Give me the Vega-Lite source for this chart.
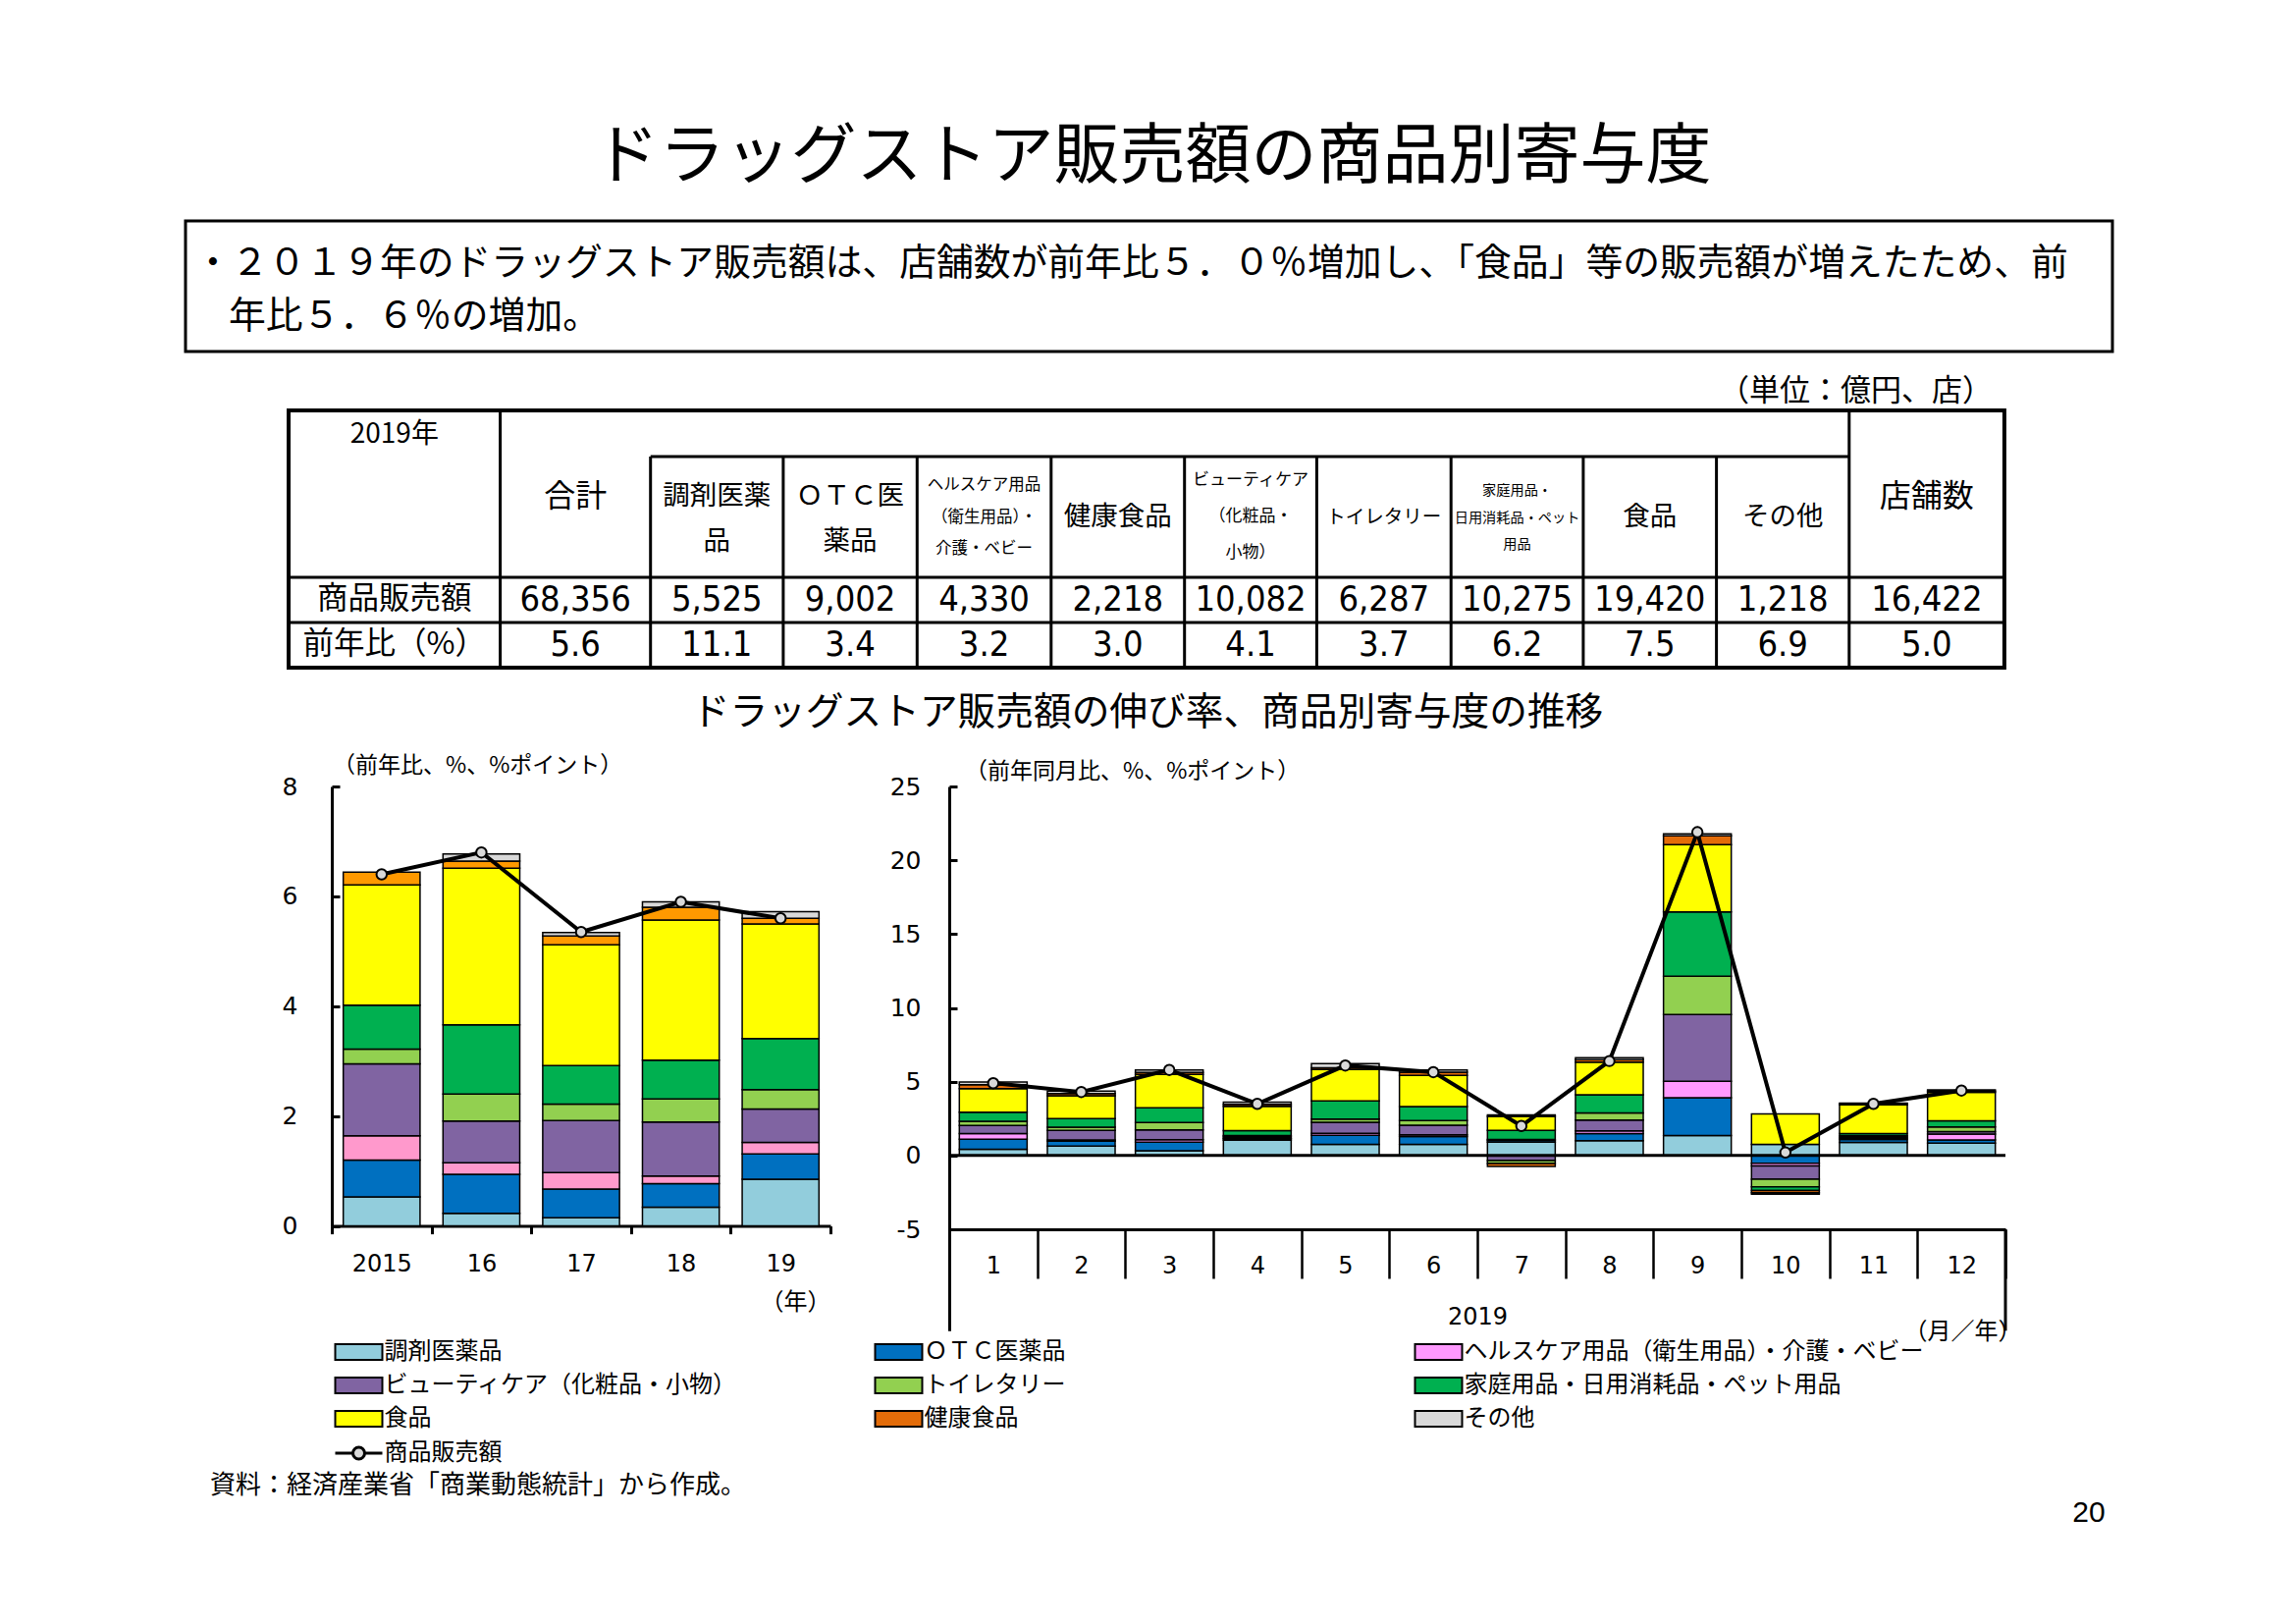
{
  "$schema": "https://vega.github.io/schema/vega-lite/v6.json",
  "background": "white",
  "padding": 0,
  "bounds": "flush",
  "spacing": 5,
  "config": {
    "view": {"stroke": null},
    "font": "Noto Sans CJK JP",
    "axis": {"domainColor": "black", "tickColor": "black", "labelColor": "black", "titleColor": "black", "grid": false, "labelFont": "DejaVu Sans", "titleFont": "Noto Sans CJK JP", "titleFontWeight": "normal"},
    "title": {"color": "black", "fontWeight": "normal", "font": "Noto Sans CJK JP"},
    "legend": {"labelColor": "black"},
    "text": {"color": "black", "font": "Noto Sans CJK JP"}
  },
  "datasets": {
    "cats": [
      {"k": 1, "c": "調剤医薬品"},
      {"k": 2, "c": "ＯＴＣ医薬品"},
      {"k": 3, "c": "ヘルスケア用品（衛生用品）・介護・ベビー"},
      {"k": 4, "c": "ビューティケア（化粧品・小物）"},
      {"k": 5, "c": "トイレタリー"},
      {"k": 6, "c": "家庭用品・日用消耗品・ペット用品"},
      {"k": 7, "c": "食品"},
      {"k": 8, "c": "健康食品"},
      {"k": 9, "c": "その他"}
    ],
    "yearly": [
      {"yr": "2015", "k": 1, "v": 0.53}, {"yr": "2015", "k": 2, "v": 0.67}, {"yr": "2015", "k": 3, "v": 0.44}, {"yr": "2015", "k": 4, "v": 1.31}, {"yr": "2015", "k": 5, "v": 0.27}, {"yr": "2015", "k": 6, "v": 0.80}, {"yr": "2015", "k": 7, "v": 2.19}, {"yr": "2015", "k": 8, "v": 0.23},
      {"yr": "16", "k": 1, "v": 0.23}, {"yr": "16", "k": 2, "v": 0.71}, {"yr": "16", "k": 3, "v": 0.21}, {"yr": "16", "k": 4, "v": 0.76}, {"yr": "16", "k": 5, "v": 0.49}, {"yr": "16", "k": 6, "v": 1.26}, {"yr": "16", "k": 7, "v": 2.85}, {"yr": "16", "k": 8, "v": 0.13}, {"yr": "16", "k": 9, "v": 0.13},
      {"yr": "17", "k": 1, "v": 0.15}, {"yr": "17", "k": 2, "v": 0.52}, {"yr": "17", "k": 3, "v": 0.30}, {"yr": "17", "k": 4, "v": 0.95}, {"yr": "17", "k": 5, "v": 0.30}, {"yr": "17", "k": 6, "v": 0.70}, {"yr": "17", "k": 7, "v": 2.20}, {"yr": "17", "k": 8, "v": 0.16}, {"yr": "17", "k": 9, "v": 0.06},
      {"yr": "18", "k": 1, "v": 0.34}, {"yr": "18", "k": 2, "v": 0.43}, {"yr": "18", "k": 3, "v": 0.14}, {"yr": "18", "k": 4, "v": 0.98}, {"yr": "18", "k": 5, "v": 0.42}, {"yr": "18", "k": 6, "v": 0.71}, {"yr": "18", "k": 7, "v": 2.55}, {"yr": "18", "k": 8, "v": 0.23}, {"yr": "18", "k": 9, "v": 0.10},
      {"yr": "19", "k": 1, "v": 0.85}, {"yr": "19", "k": 2, "v": 0.46}, {"yr": "19", "k": 3, "v": 0.21}, {"yr": "19", "k": 4, "v": 0.61}, {"yr": "19", "k": 5, "v": 0.35}, {"yr": "19", "k": 6, "v": 0.93}, {"yr": "19", "k": 7, "v": 2.09}, {"yr": "19", "k": 8, "v": 0.10}, {"yr": "19", "k": 9, "v": 0.12}
    ],
    "yearlyTotal": [
      {"yr": "2015", "v": 6.4}, {"yr": "16", "v": 6.8}, {"yr": "17", "v": 5.35}, {"yr": "18", "v": 5.9}, {"yr": "19", "v": 5.6}
    ],
    "monthly": [
      {"m": "1", "k": 1, "v": 0.42}, {"m": "1", "k": 2, "v": 0.69}, {"m": "1", "k": 3, "v": 0.38}, {"m": "1", "k": 4, "v": 0.55}, {"m": "1", "k": 5, "v": 0.27}, {"m": "1", "k": 6, "v": 0.62}, {"m": "1", "k": 7, "v": 1.60}, {"m": "1", "k": 8, "v": 0.27}, {"m": "1", "k": 9, "v": 0.18},
      {"m": "2", "k": 1, "v": 0.64}, {"m": "2", "k": 2, "v": 0.33}, {"m": "2", "k": 3, "v": 0.09}, {"m": "2", "k": 4, "v": 0.64}, {"m": "2", "k": 5, "v": 0.22}, {"m": "2", "k": 6, "v": 0.58}, {"m": "2", "k": 7, "v": 1.55}, {"m": "2", "k": 8, "v": 0.15}, {"m": "2", "k": 9, "v": 0.16},
      {"m": "3", "k": 1, "v": 0.33}, {"m": "3", "k": 2, "v": 0.58}, {"m": "3", "k": 3, "v": 0.16}, {"m": "3", "k": 4, "v": 0.67}, {"m": "3", "k": 5, "v": 0.49}, {"m": "3", "k": 6, "v": 1.00}, {"m": "3", "k": 7, "v": 2.26}, {"m": "3", "k": 8, "v": 0.13}, {"m": "3", "k": 9, "v": 0.18},
      {"m": "4", "k": 1, "v": 1.04}, {"m": "4", "k": 2, "v": 0.10}, {"m": "4", "k": 3, "v": 0.05}, {"m": "4", "k": 4, "v": 0.10}, {"m": "4", "k": 5, "v": 0.06}, {"m": "4", "k": 6, "v": 0.33}, {"m": "4", "k": 7, "v": 1.66}, {"m": "4", "k": 8, "v": 0.12}, {"m": "4", "k": 9, "v": 0.15},
      {"m": "5", "k": 1, "v": 0.75}, {"m": "5", "k": 2, "v": 0.62}, {"m": "5", "k": 3, "v": 0.13}, {"m": "5", "k": 4, "v": 0.75}, {"m": "5", "k": 5, "v": 0.22}, {"m": "5", "k": 6, "v": 1.22}, {"m": "5", "k": 7, "v": 2.13}, {"m": "5", "k": 8, "v": 0.13}, {"m": "5", "k": 9, "v": 0.27},
      {"m": "6", "k": 1, "v": 0.75}, {"m": "6", "k": 2, "v": 0.53}, {"m": "6", "k": 3, "v": 0.13}, {"m": "6", "k": 4, "v": 0.64}, {"m": "6", "k": 5, "v": 0.31}, {"m": "6", "k": 6, "v": 0.95}, {"m": "6", "k": 7, "v": 2.11}, {"m": "6", "k": 8, "v": 0.22}, {"m": "6", "k": 9, "v": 0.16},
      {"m": "7", "k": 1, "v": 0.90}, {"m": "7", "k": 2, "v": 0.12}, {"m": "7", "k": 3, "v": 0.06}, {"m": "7", "k": 4, "v": -0.35}, {"m": "7", "k": 5, "v": -0.20}, {"m": "7", "k": 6, "v": 0.62}, {"m": "7", "k": 7, "v": 0.95}, {"m": "7", "k": 8, "v": -0.20}, {"m": "7", "k": 9, "v": 0.10},
      {"m": "8", "k": 1, "v": 1.00}, {"m": "8", "k": 2, "v": 0.49}, {"m": "8", "k": 3, "v": 0.18}, {"m": "8", "k": 4, "v": 0.73}, {"m": "8", "k": 5, "v": 0.49}, {"m": "8", "k": 6, "v": 1.22}, {"m": "8", "k": 7, "v": 2.22}, {"m": "8", "k": 8, "v": 0.16}, {"m": "8", "k": 9, "v": 0.13},
      {"m": "9", "k": 1, "v": 1.35}, {"m": "9", "k": 2, "v": 2.57}, {"m": "9", "k": 3, "v": 1.11}, {"m": "9", "k": 4, "v": 4.52}, {"m": "9", "k": 5, "v": 2.59}, {"m": "9", "k": 6, "v": 4.37}, {"m": "9", "k": 7, "v": 4.55}, {"m": "9", "k": 8, "v": 0.60}, {"m": "9", "k": 9, "v": 0.13},
      {"m": "10", "k": 1, "v": 0.75}, {"m": "10", "k": 2, "v": -0.53}, {"m": "10", "k": 3, "v": -0.18}, {"m": "10", "k": 4, "v": -0.89}, {"m": "10", "k": 5, "v": -0.53}, {"m": "10", "k": 6, "v": -0.24}, {"m": "10", "k": 7, "v": 2.06}, {"m": "10", "k": 8, "v": -0.15}, {"m": "10", "k": 9, "v": -0.10},
      {"m": "11", "k": 1, "v": 0.89}, {"m": "11", "k": 2, "v": 0.20}, {"m": "11", "k": 3, "v": 0.05}, {"m": "11", "k": 4, "v": 0.10}, {"m": "11", "k": 5, "v": 0.10}, {"m": "11", "k": 6, "v": 0.15}, {"m": "11", "k": 7, "v": 1.95}, {"m": "11", "k": 8, "v": 0.06}, {"m": "11", "k": 9, "v": 0.05},
      {"m": "12", "k": 1, "v": 0.84}, {"m": "12", "k": 2, "v": 0.22}, {"m": "12", "k": 3, "v": 0.40}, {"m": "12", "k": 4, "v": 0.16}, {"m": "12", "k": 5, "v": 0.31}, {"m": "12", "k": 6, "v": 0.42}, {"m": "12", "k": 7, "v": 1.93}, {"m": "12", "k": 8, "v": 0.08}, {"m": "12", "k": 9, "v": 0.08}
    ],
    "monthlyTotal": [
      {"m": "1", "v": 4.9, "s": "商品販売額"}, {"m": "2", "v": 4.3, "s": "商品販売額"}, {"m": "3", "v": 5.8, "s": "商品販売額"}, {"m": "4", "v": 3.5, "s": "商品販売額"},
      {"m": "5", "v": 6.1, "s": "商品販売額"}, {"m": "6", "v": 5.65, "s": "商品販売額"}, {"m": "7", "v": 2.0, "s": "商品販売額"}, {"m": "8", "v": 6.4, "s": "商品販売額"},
      {"m": "9", "v": 21.9, "s": "商品販売額"}, {"m": "10", "v": 0.2, "s": "商品販売額"}, {"m": "11", "v": 3.5, "s": "商品販売額"}, {"m": "12", "v": 4.4, "s": "商品販売額"}
    ]
  },
  "vconcat": [
    {
      "width": 2339,
      "height": 796,
      "resolve": {"scale": {"x": "independent", "y": "independent"}},
      "layer": [
        {
          "layer": [
            {
              "data": {"values": [{"t": "ドラッグストア販売額の商品別寄与度"}]},
              "mark": {"type": "text", "fontSize": 67, "align": "center", "baseline": "middle"},
              "encoding": {
                "text": {"field": "t"},
                "x": {"datum": 0.50192, "type": "quantitative", "scale": {"domain": [0, 1], "nice": false, "zero": false}, "axis": null},
                "y": {"datum": 0.20226, "type": "quantitative", "scale": {"domain": [0, 1], "nice": false, "zero": false, "reverse": true}, "axis": null}
              }
            },
            {
              "data": {"values": [{"box": "summary"}]},
              "mark": {"type": "rect", "filled": false, "stroke": "black", "strokeWidth": 3},
              "encoding": {
                "x": {"datum": 0.0808, "type": "quantitative", "scale": {"domain": [0, 1], "nice": false, "zero": false}, "axis": null},
                "x2": {"datum": 0.92005},
                "y": {"datum": 0.28266, "type": "quantitative", "scale": {"domain": [0, 1], "nice": false, "zero": false, "reverse": true}, "axis": null},
                "y2": {"datum": 0.44975}
              }
            },
            {
              "data": {"values": [{"t": "・２０１９年のドラッグストア販売額は、店舗数が前年比５．０％増加し、「食品」等の販売額が増えたため、前"}]},
              "mark": {"type": "text", "fontSize": 37.8, "align": "left", "baseline": "middle"},
              "encoding": {
                "text": {"field": "t"},
                "x": {"datum": 0.08465, "type": "quantitative", "scale": {"domain": [0, 1], "nice": false, "zero": false}, "axis": null},
                "y": {"datum": 0.3379, "type": "quantitative", "scale": {"domain": [0, 1], "nice": false, "zero": false, "reverse": true}, "axis": null}
              }
            },
            {
              "data": {"values": [{"t": "年比５．６％の増加。"}]},
              "mark": {"type": "text", "fontSize": 37.8, "align": "left", "baseline": "middle"},
              "encoding": {
                "text": {"field": "t"},
                "x": {"datum": 0.09962, "type": "quantitative", "scale": {"domain": [0, 1], "nice": false, "zero": false}, "axis": null},
                "y": {"datum": 0.40578, "type": "quantitative", "scale": {"domain": [0, 1], "nice": false, "zero": false, "reverse": true}, "axis": null}
              }
            },
            {
              "data": {"values": [{"t": "（単位：億円、店）"}]},
              "mark": {"type": "text", "fontSize": 31, "align": "right", "baseline": "middle"},
              "encoding": {
                "text": {"field": "t"},
                "x": {"datum": 0.8679, "type": "quantitative", "scale": {"domain": [0, 1], "nice": false, "zero": false}, "axis": null},
                "y": {"datum": 0.5013, "type": "quantitative", "scale": {"domain": [0, 1], "nice": false, "zero": false, "reverse": true}, "axis": null}
              }
            },
            {
              "data": {"values": [{"t": "ドラッグストア販売額の伸び率、商品別寄与度の推移"}]},
              "mark": {"type": "text", "fontSize": 38.7, "align": "center", "baseline": "middle"},
              "encoding": {
                "text": {"field": "t"},
                "x": {"datum": 0.49979, "type": "quantitative", "scale": {"domain": [0, 1], "nice": false, "zero": false}, "axis": null},
                "y": {"datum": 0.91206, "type": "quantitative", "scale": {"domain": [0, 1], "nice": false, "zero": false, "reverse": true}, "axis": null}
              }
            }
          ]
        },
        {
          "layer": [
            {
              "data": {"values": [{"x0": 0, "x1": 12, "y0": 0, "y1": 4}]},
              "mark": {"type": "rect", "filled": false, "stroke": "black", "strokeWidth": 4},
              "encoding": {
                "x": {"field": "x0", "type": "quantitative", "scale": {"domain": [0,1,2,3,4,5,6,7,8,9,10,11,12], "range": [294,509.6,662.7,797.9,934.3,1070.8,1206.7,1341.4,1478.2,1612.9,1748.6,1883.8,2041.9], "nice": false, "zero": false}, "axis": null},
                "x2": {"field": "x1"},
                "y": {"field": "y0", "type": "quantitative", "scale": {"domain": [0,1,2,3,4], "range": [418,465,588,634,680], "nice": false, "zero": false}, "axis": null},
                "y2": {"field": "y1"}
              }
            },
            {
              "data": {"values": [
                {"x0": 1, "x1": 1, "y0": 0, "y1": 4}, {"x0": 11, "x1": 11, "y0": 0, "y1": 4},
                {"x0": 2, "x1": 2, "y0": 1, "y1": 4}, {"x0": 3, "x1": 3, "y0": 1, "y1": 4}, {"x0": 4, "x1": 4, "y0": 1, "y1": 4},
                {"x0": 5, "x1": 5, "y0": 1, "y1": 4}, {"x0": 6, "x1": 6, "y0": 1, "y1": 4}, {"x0": 7, "x1": 7, "y0": 1, "y1": 4},
                {"x0": 8, "x1": 8, "y0": 1, "y1": 4}, {"x0": 9, "x1": 9, "y0": 1, "y1": 4}, {"x0": 10, "x1": 10, "y0": 1, "y1": 4},
                {"x0": 2, "x1": 11, "y0": 1, "y1": 1}, {"x0": 0, "x1": 12, "y0": 2, "y1": 2}, {"x0": 0, "x1": 12, "y0": 3, "y1": 3}
              ]},
              "mark": {"type": "rule", "color": "black", "strokeWidth": 3},
              "encoding": {
                "x": {"field": "x0", "type": "quantitative", "scale": {"domain": [0,1,2,3,4,5,6,7,8,9,10,11,12], "range": [294,509.6,662.7,797.9,934.3,1070.8,1206.7,1341.4,1478.2,1612.9,1748.6,1883.8,2041.9], "nice": false, "zero": false}, "axis": null},
                "x2": {"field": "x1"},
                "y": {"field": "y0", "type": "quantitative", "scale": {"domain": [0,1,2,3,4], "range": [418,465,588,634,680], "nice": false, "zero": false}, "axis": null},
                "y2": {"field": "y1"}
              }
            },
            {
              "data": {"values": [{"t": "2019年", "c": 0.5, "r": 0.53}]},
              "mark": {"type": "text", "fontSize": 28, "align": "center", "baseline": "middle"},
              "encoding": {
                "text": {"field": "t"},
                "x": {"field": "c", "type": "quantitative", "scale": {"domain": [0,1,2,3,4,5,6,7,8,9,10,11,12], "range": [294,509.6,662.7,797.9,934.3,1070.8,1206.7,1341.4,1478.2,1612.9,1748.6,1883.8,2041.9], "nice": false, "zero": false}, "axis": null},
                "y": {"field": "r", "type": "quantitative", "scale": {"domain": [0,1,2,3,4], "range": [418,465,588,634,680], "nice": false, "zero": false}, "axis": null}
              }
            },
            {
              "data": {"values": [{"t": "合計", "c": 1.5, "r": 1.33}, {"t": "店舗数", "c": 11.5, "r": 1.33}]},
              "mark": {"type": "text", "fontSize": 32, "align": "center", "baseline": "middle"},
              "encoding": {
                "text": {"field": "t"},
                "x": {"field": "c", "type": "quantitative", "scale": {"domain": [0,1,2,3,4,5,6,7,8,9,10,11,12], "range": [294,509.6,662.7,797.9,934.3,1070.8,1206.7,1341.4,1478.2,1612.9,1748.6,1883.8,2041.9], "nice": false, "zero": false}, "axis": null},
                "y": {"field": "r", "type": "quantitative", "scale": {"domain": [0,1,2,3,4], "range": [418,465,588,634,680], "nice": false, "zero": false}, "axis": null}
              }
            },
            {
              "data": {"values": [
                {"t": "調剤医薬\n品", "c": 2.5, "r": 1.333}, {"t": "ＯＴＣ医\n薬品", "c": 3.5, "r": 1.333},
                {"t": "健康食品", "c": 5.5, "r": 1.5}, {"t": "食品", "c": 9.5, "r": 1.5}, {"t": "その他", "c": 10.5, "r": 1.5}
              ]},
              "mark": {"type": "text", "fontSize": 27.5, "lineHeight": 46, "lineBreak": "\n", "align": "center", "baseline": "middle"},
              "encoding": {
                "text": {"field": "t"},
                "x": {"field": "c", "type": "quantitative", "scale": {"domain": [0,1,2,3,4,5,6,7,8,9,10,11,12], "range": [294,509.6,662.7,797.9,934.3,1070.8,1206.7,1341.4,1478.2,1612.9,1748.6,1883.8,2041.9], "nice": false, "zero": false}, "axis": null},
                "y": {"field": "r", "type": "quantitative", "scale": {"domain": [0,1,2,3,4], "range": [418,465,588,634,680], "nice": false, "zero": false}, "axis": null}
              }
            },
            {
              "data": {"values": [{"t": "ヘルスケア用品\n（衛生用品）・\n介護・ベビー", "c": 4.5, "r": 1.236}]},
              "mark": {"type": "text", "fontSize": 16.5, "lineHeight": 32.5, "lineBreak": "\n", "align": "center", "baseline": "middle"},
              "encoding": {
                "text": {"field": "t"},
                "x": {"field": "c", "type": "quantitative", "scale": {"domain": [0,1,2,3,4,5,6,7,8,9,10,11,12], "range": [294,509.6,662.7,797.9,934.3,1070.8,1206.7,1341.4,1478.2,1612.9,1748.6,1883.8,2041.9], "nice": false, "zero": false}, "axis": null},
                "y": {"field": "r", "type": "quantitative", "scale": {"domain": [0,1,2,3,4], "range": [418,465,588,634,680], "nice": false, "zero": false}, "axis": null}
              }
            },
            {
              "data": {"values": [{"t": "ビューティケア\n（化粧品・\n小物）", "c": 6.5, "r": 1.195}]},
              "mark": {"type": "text", "fontSize": 17, "lineHeight": 37, "lineBreak": "\n", "align": "center", "baseline": "middle"},
              "encoding": {
                "text": {"field": "t"},
                "x": {"field": "c", "type": "quantitative", "scale": {"domain": [0,1,2,3,4,5,6,7,8,9,10,11,12], "range": [294,509.6,662.7,797.9,934.3,1070.8,1206.7,1341.4,1478.2,1612.9,1748.6,1883.8,2041.9], "nice": false, "zero": false}, "axis": null},
                "y": {"field": "r", "type": "quantitative", "scale": {"domain": [0,1,2,3,4], "range": [418,465,588,634,680], "nice": false, "zero": false}, "axis": null}
              }
            },
            {
              "data": {"values": [{"t": "トイレタリー", "c": 7.5, "r": 1.5}]},
              "mark": {"type": "text", "fontSize": 19.5, "align": "center", "baseline": "middle"},
              "encoding": {
                "text": {"field": "t"},
                "x": {"field": "c", "type": "quantitative", "scale": {"domain": [0,1,2,3,4,5,6,7,8,9,10,11,12], "range": [294,509.6,662.7,797.9,934.3,1070.8,1206.7,1341.4,1478.2,1612.9,1748.6,1883.8,2041.9], "nice": false, "zero": false}, "axis": null},
                "y": {"field": "r", "type": "quantitative", "scale": {"domain": [0,1,2,3,4], "range": [418,465,588,634,680], "nice": false, "zero": false}, "axis": null}
              }
            },
            {
              "data": {"values": [{"t": "家庭用品・\n日用消耗品・ペット\n用品", "c": 8.5, "r": 1.285}]},
              "mark": {"type": "text", "fontSize": 14.2, "lineHeight": 27.5, "lineBreak": "\n", "align": "center", "baseline": "middle"},
              "encoding": {
                "text": {"field": "t"},
                "x": {"field": "c", "type": "quantitative", "scale": {"domain": [0,1,2,3,4,5,6,7,8,9,10,11,12], "range": [294,509.6,662.7,797.9,934.3,1070.8,1206.7,1341.4,1478.2,1612.9,1748.6,1883.8,2041.9], "nice": false, "zero": false}, "axis": null},
                "y": {"field": "r", "type": "quantitative", "scale": {"domain": [0,1,2,3,4], "range": [418,465,588,634,680], "nice": false, "zero": false}, "axis": null}
              }
            },
            {
              "data": {"values": [{"t": "商品販売額", "c": 0.5, "r": 2.5}, {"t": "前年比（%）", "c": 0.5, "r": 3.5}]},
              "mark": {"type": "text", "fontSize": 31.5, "align": "center", "baseline": "middle"},
              "encoding": {
                "text": {"field": "t"},
                "x": {"field": "c", "type": "quantitative", "scale": {"domain": [0,1,2,3,4,5,6,7,8,9,10,11,12], "range": [294,509.6,662.7,797.9,934.3,1070.8,1206.7,1341.4,1478.2,1612.9,1748.6,1883.8,2041.9], "nice": false, "zero": false}, "axis": null},
                "y": {"field": "r", "type": "quantitative", "scale": {"domain": [0,1,2,3,4], "range": [418,465,588,634,680], "nice": false, "zero": false}, "axis": null}
              }
            },
            {
              "data": {"values": [
                {"t": "68,356", "c": 1.5, "r": 2.5}, {"t": "5,525", "c": 2.5, "r": 2.5}, {"t": "9,002", "c": 3.5, "r": 2.5}, {"t": "4,330", "c": 4.5, "r": 2.5},
                {"t": "2,218", "c": 5.5, "r": 2.5}, {"t": "10,082", "c": 6.5, "r": 2.5}, {"t": "6,287", "c": 7.5, "r": 2.5}, {"t": "10,275", "c": 8.5, "r": 2.5},
                {"t": "19,420", "c": 9.5, "r": 2.5}, {"t": "1,218", "c": 10.5, "r": 2.5}, {"t": "16,422", "c": 11.5, "r": 2.5},
                {"t": "5.6", "c": 1.5, "r": 3.5}, {"t": "11.1", "c": 2.5, "r": 3.5}, {"t": "3.4", "c": 3.5, "r": 3.5}, {"t": "3.2", "c": 4.5, "r": 3.5},
                {"t": "3.0", "c": 5.5, "r": 3.5}, {"t": "4.1", "c": 6.5, "r": 3.5}, {"t": "3.7", "c": 7.5, "r": 3.5}, {"t": "6.2", "c": 8.5, "r": 3.5},
                {"t": "7.5", "c": 9.5, "r": 3.5}, {"t": "6.9", "c": 10.5, "r": 3.5}, {"t": "5.0", "c": 11.5, "r": 3.5}
              ]},
              "mark": {"type": "text", "fontSize": 36, "font": "DejaVu Sans Condensed", "align": "center", "baseline": "middle"},
              "encoding": {
                "text": {"field": "t"},
                "x": {"field": "c", "type": "quantitative", "scale": {"domain": [0,1,2,3,4,5,6,7,8,9,10,11,12], "range": [294,509.6,662.7,797.9,934.3,1070.8,1206.7,1341.4,1478.2,1612.9,1748.6,1883.8,2041.9], "nice": false, "zero": false}, "axis": null},
                "y": {"field": "r", "type": "quantitative", "scale": {"domain": [0,1,2,3,4], "range": [418,465,588,634,680], "nice": false, "zero": false}, "axis": null}
              }
            }
          ]
        }
      ]
    },
    {
      "bounds": "flush",
      "spacing": 121,
      "resolve": {"scale": {"color": "independent", "stroke": "independent", "x": "independent", "y": "independent"}, "legend": {"color": "independent", "stroke": "independent"}},
      "hconcat": [
        {
          "width": 217,
          "height": 853,
          "layer": [
            {
              "data": {"values": [{"t": "資料：経済産業省「商業動態統計」から作成。"}]},
              "mark": {"type": "text", "fontSize": 26, "align": "left", "baseline": "middle"},
              "encoding": {
                "text": {"field": "t"},
                "x": {"datum": 0.0915, "type": "quantitative", "scale": {"domain": [0, 1], "range": [0, 2339], "nice": false, "zero": false}, "axis": null},
                "y": {"datum": 0.9148, "type": "quantitative", "scale": {"domain": [0, 1], "range": [-801, 853], "nice": false, "zero": false}, "axis": null}
              }
            },
            {
              "data": {"values": [{"t": "20"}]},
              "mark": {"type": "text", "fontSize": 30, "font": "Liberation Sans", "align": "center", "baseline": "middle"},
              "encoding": {
                "text": {"field": "t"},
                "x": {"datum": 0.9098, "type": "quantitative", "scale": {"domain": [0, 1], "range": [0, 2339], "nice": false, "zero": false}, "axis": null},
                "y": {"datum": 0.9317, "type": "quantitative", "scale": {"domain": [0, 1], "range": [-801, 853], "nice": false, "zero": false}, "axis": null}
              }
            }
          ]
        },
        {
          "width": 508,
          "height": 447.6,
          "title": {"text": "（前年比、%、%ポイント）", "anchor": "start", "frame": "group", "fontSize": 23, "offset": -3, "dx": 1},
          "layer": [
            {
              "data": {"name": "yearly"},
              "transform": [{"lookup": "k", "from": {"data": {"name": "cats"}, "key": "k", "fields": ["c"]}}],
              "mark": {"type": "bar", "stroke": "black", "strokeWidth": 1.5, "width": {"band": 0.77}},
              "encoding": {
                "x": {"field": "yr", "type": "ordinal", "title": "（年）",
                      "scale": {"domain": ["2015", "16", "17", "18", "19"], "paddingInner": 0, "paddingOuter": 0},
                      "axis": {"titleAnchor": "end", "titleFontSize": 24, "titlePadding": 15, "tickBand": "extent", "tickSize": 8, "tickWidth": 3, "domainWidth": 3, "labelAngle": 0, "labelFontSize": 24, "labelPadding": 19}},
                "y": {"field": "v", "type": "quantitative", "stack": "zero", "title": null,
                      "scale": {"domain": [0, 8], "nice": false},
                      "axis": {"values": [0, 2, 4, 6, 8], "tickSize": -8, "tickWidth": 3, "domainWidth": 3, "labelPadding": 43, "labelFontSize": 25, "labelExpr": "'' + datum.value"}},
                "color": {"field": "c", "type": "nominal",
                          "scale": {"domain": ["調剤医薬品", "ＯＴＣ医薬品", "ヘルスケア用品（衛生用品）・介護・ベビー", "ビューティケア（化粧品・小物）", "トイレタリー", "家庭用品・日用消耗品・ペット用品", "食品", "健康食品", "その他"],
                                    "range": ["#92CDDC", "#0070C0", "#FF99CC", "#8064A2", "#92D050", "#00B050", "#FFFF00", "#FF9900", "#D9D9D9"]},
                          "legend": null},
                "order": {"field": "k", "type": "quantitative"}
              }
            },
            {
              "data": {"name": "yearlyTotal"},
              "mark": {"type": "line", "color": "black", "strokeWidth": 4},
              "encoding": {
                "x": {"field": "yr", "type": "ordinal", "title": "（年）"},
                "y": {"field": "v", "type": "quantitative", "title": null}
              }
            },
            {
              "data": {"name": "yearlyTotal"},
              "mark": {"type": "point", "shape": "circle", "filled": true, "fill": "#D9D9D9", "stroke": "black", "strokeWidth": 2, "size": 110, "opacity": 1},
              "encoding": {
                "x": {"field": "yr", "type": "ordinal", "title": "（年）"},
                "y": {"field": "v", "type": "quantitative", "title": null}
              }
            }
          ]
        },
        {
          "width": 1076,
          "height": 554.3,
          "title": {"text": "（前年同月比、%、%ポイント）", "anchor": "start", "frame": "group", "fontSize": 23, "offset": -9, "dx": 16},
          "resolve": {"scale": {"x": "independent"}, "axis": {"x": "independent"}},
          "layer": [
            {
              "layer": [
                {
                  "data": {"name": "monthly"},
                  "transform": [{"lookup": "k", "from": {"data": {"name": "cats"}, "key": "k", "fields": ["c"]}}],
                  "mark": {"type": "bar", "stroke": "black", "strokeWidth": 1.5, "width": {"band": 0.77}},
                  "encoding": {
                    "x": {"field": "m", "type": "ordinal", "title": "2019",
                          "scale": {"domain": ["1", "2", "3", "4", "5", "6", "7", "8", "9", "10", "11", "12"], "paddingInner": 0, "paddingOuter": 0},
                          "axis": {"orient": "bottom", "offset": -103.3, "tickBand": "extent", "tickSize": 50, "tickWidth": 2.5, "domainWidth": 3, "labelAngle": 0, "labelFontSize": 24, "labelPadding": -25, "titleFont": "DejaVu Sans", "titleFontSize": 24, "titlePadding": 26}},
                    "y": {"field": "v", "type": "quantitative", "stack": "zero", "title": null,
                          "scale": {"domain": [-11.87, 25], "nice": false, "zero": false},
                          "axis": {"values": [-5, 0, 5, 10, 15, 20, 25], "tickSize": -8, "tickWidth": 3, "domainWidth": 3, "labelPadding": 37, "labelFontSize": 25, "labelExpr": "'' + datum.value"}},
                    "color": {"field": "c", "type": "nominal",
                              "scale": {"domain": ["調剤医薬品", "ＯＴＣ医薬品", "ヘルスケア用品（衛生用品）・介護・ベビー", "ビューティケア（化粧品・小物）", "トイレタリー", "家庭用品・日用消耗品・ペット用品", "食品", "健康食品", "その他"],
                                        "range": ["#92CDDC", "#0070C0", "#FF99FF", "#8064A2", "#92D050", "#00B050", "#FFFF00", "#E36C09", "#D9D9D9"]},
                              "legend": {"orient": "none", "direction": "horizontal", "legendX": -613.5, "legendY": 564, "columns": 3, "gridAlign": "all", "columnPadding": 28, "rowPadding": 10, "title": null, "padding": 0,
                                         "symbolType": "M-3,-1H3V1H-3Z", "symbolSize": 256, "symbolStrokeColor": "black", "symbolStrokeWidth": 2, "symbolOpacity": 1,
                                         "labelFont": "Noto Sans CJK JP", "labelFontSize": 24, "labelLimit": 700, "labelOffset": 14}},
                    "order": {"field": "k", "type": "quantitative"}
                  }
                },
                {
                  "data": {"values": [{"ref": "zero"}]},
                  "mark": {"type": "rule", "color": "black", "strokeWidth": 3},
                  "encoding": {"y": {"datum": 0, "type": "quantitative"}}
                },
                {
                  "data": {"name": "monthlyTotal"},
                  "mark": {"type": "line", "strokeWidth": 4},
                  "encoding": {
                    "x": {"field": "m", "type": "ordinal", "title": "2019"},
                    "y": {"field": "v", "type": "quantitative", "title": null},
                    "stroke": {"field": "s", "type": "nominal", "scale": {"range": ["black"]},
                               "legend": {"orient": "none", "legendX": -613.5, "legendY": 667, "title": null, "padding": 0,
                                          "symbolType": "M-3,0H-0.75M0.75,0H3M-0.75,0A0.75,0.75 0 1,0 0.75,0A0.75,0.75 0 1,0 -0.75,0",
                                          "symbolSize": 256, "symbolStrokeWidth": 3, "symbolStrokeColor": "black",
                                          "labelFont": "Noto Sans CJK JP", "labelFontSize": 24, "labelLimit": 700, "labelOffset": 14,
                                          "encode": {"symbols": {"update": {"fill": {"value": "#D9D9D9"}, "stroke": {"value": "black"}}}}}}
                  }
                },
                {
                  "data": {"name": "monthlyTotal"},
                  "mark": {"type": "point", "shape": "circle", "filled": true, "fill": "#D9D9D9", "stroke": "black", "strokeWidth": 2, "size": 110, "opacity": 1},
                  "encoding": {
                    "x": {"field": "m", "type": "ordinal", "title": "2019"},
                    "y": {"field": "v", "type": "quantitative", "title": null}
                  }
                }
              ]
            },
            {
              "data": {"values": [{"edge": "right"}]},
              "mark": {"type": "rule", "color": "black", "strokeWidth": 3},
              "encoding": {
                "x": {"datum": 1, "type": "quantitative", "scale": {"domain": [0, 1], "nice": false, "zero": false},
                      "axis": {"orient": "bottom", "title": "（月／年）", "domain": false, "ticks": false, "labels": false, "offset": -11, "titleX": 1092, "titleAlign": "right", "titlePadding": 0, "titleFontSize": 24}},
                "y": {"datum": -5, "type": "quantitative"},
                "y2": {"datum": -11.87}
              }
            }
          ]
        }
      ]
    }
  ]
}
